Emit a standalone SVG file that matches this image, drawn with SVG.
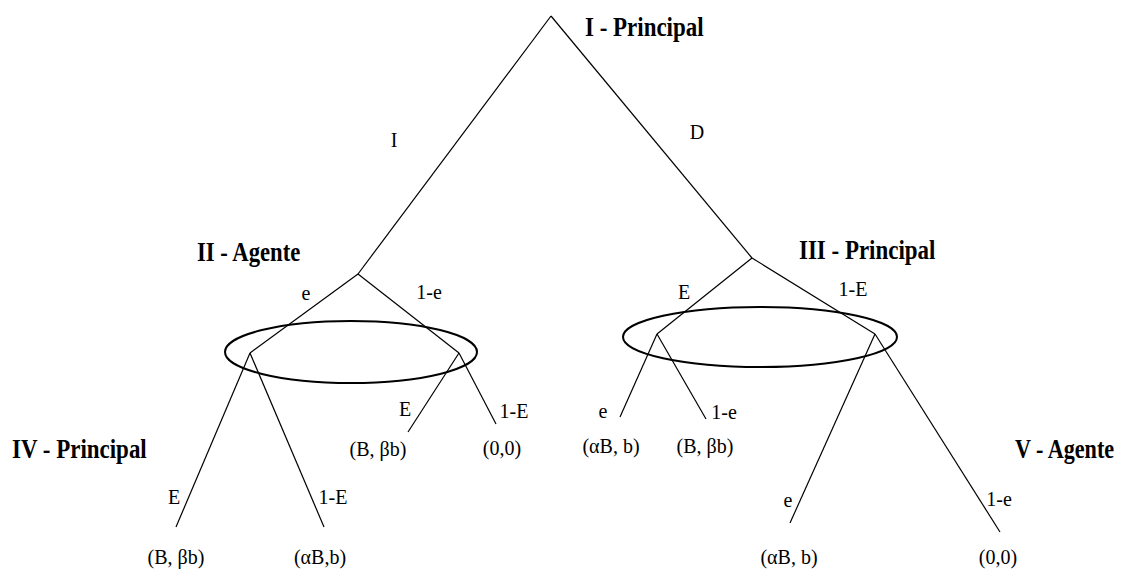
<svg xmlns="http://www.w3.org/2000/svg" width="1128" height="574" viewBox="0 0 1128 574">
<style>
.e{stroke:#000;stroke-width:1.2;fill:none}
.s{stroke:#000;stroke-width:2;fill:none}
.t{font-family:"Liberation Serif","Times New Roman",serif;font-size:20px;fill:#000;text-anchor:middle}
.b{font-family:"Liberation Serif","Times New Roman",serif;font-size:28px;font-weight:bold;fill:#000}
</style>
<rect width="1128" height="574" fill="#fff"/>
<g id="connectors">
<line class="e" x1="551" y1="16" x2="358" y2="274"/>
<line class="e" x1="551" y1="16" x2="752" y2="258"/>
<line class="e" x1="358" y1="274" x2="250" y2="353"/>
<line class="e" x1="358" y1="274" x2="459" y2="353"/>
<line class="e" x1="752" y1="258" x2="657" y2="334"/>
<line class="e" x1="752" y1="258" x2="875" y2="334"/>
<line class="e" x1="250" y1="353" x2="176" y2="527"/>
<line class="e" x1="250" y1="353" x2="324" y2="527"/>
<line class="e" x1="459" y1="353" x2="408" y2="432"/>
<line class="e" x1="459" y1="353" x2="496" y2="424"/>
<line class="e" x1="657" y1="334" x2="620" y2="417"/>
<line class="e" x1="657" y1="334" x2="706" y2="419"/>
<line class="e" x1="875" y1="334" x2="790" y2="523"/>
<line class="e" x1="875" y1="334" x2="1000" y2="532"/>
<ellipse class="s" cx="351" cy="352" rx="126" ry="31"/>
<ellipse class="s" cx="760" cy="337" rx="137" ry="30"/>
<text class="t" x="394" y="147">I</text>
<text class="t" x="697" y="139">D</text>
<text class="t" x="306" y="300">e</text>
<text class="t" x="429" y="299">1-e</text>
<text class="t" x="684" y="299">E</text>
<text class="t" x="853" y="296">1-E</text>
<text class="t" x="405" y="416">E</text>
<text class="t" x="514" y="418">1-E</text>
<text class="t" x="174" y="504">E</text>
<text class="t" x="333" y="504">1-E</text>
<text class="t" x="603" y="418">e</text>
<text class="t" x="724" y="419">1-e</text>
<text class="t" x="788" y="507">e</text>
<text class="t" x="999" y="506">1-e</text>
</g>
<g id="n1" transform="translate(585,36) scale(0.82,1)"><text class="b" x="0" y="0">I - Principal</text></g>
<g id="n2" transform="translate(197,261) scale(0.81,1)"><text class="b" x="0" y="0">II - Agente</text></g>
<g id="n3" transform="translate(799,259) scale(0.82,1)"><text class="b" x="0" y="0">III - Principal</text></g>
<g id="n4" transform="translate(12,458) scale(0.82,1)"><text class="b" x="0" y="0">IV - Principal</text></g>
<g id="n5" transform="translate(1015,458) scale(0.79,1)"><text class="b" x="0" y="0">V - Agente</text></g>
<g id="p1"><text class="t" x="176" y="564">(B, βb)</text></g>
<g id="p2"><text class="t" x="320" y="564">(αB,b)</text></g>
<g id="p3"><text class="t" x="378" y="456">(B, βb)</text></g>
<g id="p4"><text class="t" x="502" y="455">(0,0)</text></g>
<g id="p5"><text class="t" x="611" y="453">(αB, b)</text></g>
<g id="p6"><text class="t" x="705" y="453">(B, βb)</text></g>
<g id="p7"><text class="t" x="789" y="564">(αB, b)</text></g>
<g id="p8"><text class="t" x="998" y="564">(0,0)</text></g>
</svg>
